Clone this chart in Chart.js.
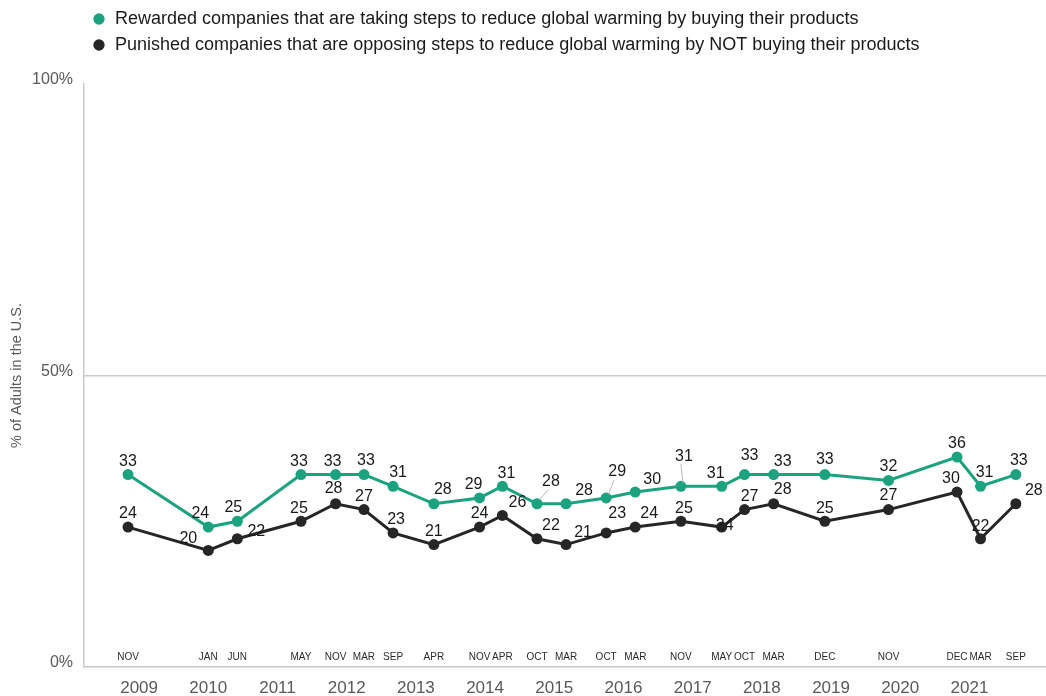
<!DOCTYPE html>
<html>
<head>
<meta charset="utf-8">
<script src="https://cdn.jsdelivr.net/npm/chart.js@4.4.1/dist/chart.umd.min.js"></script>
<style>
  html, body { margin: 0; padding: 0; background: #fff; }
  #wrap { width: 1046px; height: 696px; }
</style>
</head>
<body>
<div id="wrap"><canvas id="chart" width="1046" height="696"></canvas></div>
<script>
const surveyDates = [2008.84, 2010.00, 2010.42, 2011.34, 2011.84, 2012.25, 2012.67, 2013.26, 2013.92,
  2014.25, 2014.75, 2015.17, 2015.75, 2016.17, 2016.83, 2017.42, 2017.75, 2018.17, 2018.91,
  2019.83, 2020.82, 2021.16, 2021.67];
const monthLabels = ['NOV', 'JAN', 'JUN', 'MAY', 'NOV', 'MAR', 'SEP', 'APR', 'NOV', 'APR', 'OCT', 'MAR',
  'OCT', 'MAR', 'NOV', 'MAY', 'OCT', 'MAR', 'DEC', 'NOV', 'DEC', 'MAR', 'SEP'];
const rewarded = [33, 24, 25, 33, 33, 33, 31, 28, 29, 31, 28, 28, 29, 30, 31, 31, 33, 33, 33, 32, 36, 31, 33];
const punished = [24, 20, 22, 25, 28, 27, 23, 21, 24, 26, 22, 21, 23, 24, 25, 24, 27, 28, 25, 27, 30, 22, 28];
const yearTicks = [2009, 2010, 2011, 2012, 2013, 2014, 2015, 2016, 2017, 2018, 2019, 2020, 2021];
const pctTicks = [0, 50, 100];

const seriesNames = [
  'Rewarded companies that are taking steps to reduce global warming by buying their products',
  'Punished companies that are opposing steps to reduce global warming by NOT buying their products'
];

// where each value label sits relative to its point [dx, dy]
const greenLabelPos = [[0,-13],[-8,-13],[-4,-14],[-2,-13],[-3,-13],[2,-14],[5,-14],[9,-14],[-6,-13],[4,-13],
  [14,-22],[18,-13],[11,-26],[17,-13],[3,-30],[-6,-13],[5,-19],[9,-13],[0,-15],[0,-14],[0,-14],[4,-14],[3,-14]];
const blackLabelPos = [[0,-13],[-20,-12],[19,-7],[-2,-13],[-2,-15],[0,-13],[3,-13],[0,-13],[0,-13],[15,-13],
  [14,-13],[17,-12],[11,-19],[14,-13],[3,-13],[3,-1],[5,-13],[9,-14],[0,-13],[0,-14],[-6,-14],[0,-12],[18,-13]];
const leaderLines = [10, 12, 14];

const GREEN = '#1ba37f';
const DARK = '#262626';
const AXIS = '#c9c9c9';
const FONT = "'Liberation Sans', Arial, sans-serif";

const toPoints = vals => surveyDates.map((d, i) => ({ x: d, y: vals[i] }));

const valueLabels = {
  id: 'valueLabels',
  afterDatasetsDraw(chart) {
    const ctx = chart.ctx;
    const offsets = [greenLabelPos, blackLabelPos];
    ctx.save();
    ctx.font = '16px ' + FONT;
    ctx.textAlign = 'center';
    ctx.textBaseline = 'middle';
    chart.data.datasets.forEach((ds, di) => {
      const meta = chart.getDatasetMeta(di);
      meta.data.forEach((pt, i) => {
        const [dx, dy] = offsets[di][i];
        const tx = pt.x + dx, ty = pt.y + dy;
        if (di === 0 && leaderLines.includes(i)) {
          ctx.strokeStyle = '#a6a6a6';
          ctx.lineWidth = 0.8;
          ctx.beginPath();
          ctx.moveTo(pt.x + 2, pt.y - 3);
          ctx.lineTo(tx - 3, ty + 8);
          ctx.stroke();
        }
        ctx.fillStyle = '#1a1a1a';
        ctx.fillText(String(ds.data[i].y), tx, ty);
      });
    });
    // month labels along the bottom of the plot
    const xs = chart.scales.x, ys = chart.scales.y;
    ctx.font = '10px ' + FONT;
    ctx.fillStyle = '#2b2b2b';
    surveyDates.forEach((d, i) => {
      ctx.fillText(monthLabels[i], xs.getPixelForValue(d), ys.getPixelForValue(0) - 10);
    });
    ctx.restore();
  }
};

const legendHeight = {
  id: 'legendHeight',
  beforeInit(chart) {
    const fit = chart.legend.fit;
    chart.legend.fit = function () {
      fit.call(this);
      this.height = 82;
    };
  }
};

new Chart(document.getElementById('chart'), {
  type: 'line',
  data: {
    datasets: [
      { label: seriesNames[0], data: toPoints(rewarded), borderColor: GREEN, backgroundColor: GREEN,
        borderWidth: 3, pointRadius: 5.5, pointBorderWidth: 0, pointBackgroundColor: GREEN, tension: 0 },
      { label: seriesNames[1], data: toPoints(punished), borderColor: DARK, backgroundColor: DARK,
        borderWidth: 3, pointRadius: 5.5, pointBorderWidth: 0, pointBackgroundColor: DARK, tension: 0 }
    ]
  },
  options: {
    responsive: false,
    animation: false,
    devicePixelRatio: 1,
    layout: { autoPadding: false, padding: { top: 2, left: 0, right: 0, bottom: 0 } },
    plugins: {
      legend: {
        position: 'top',
        align: 'start',
        fullSize: false,
        labels: {
          usePointStyle: true,
          pointStyle: 'circle',
          boxWidth: 14,
          boxHeight: 8,
          padding: 8,
          color: '#1a1a1a',
          font: { family: FONT, size: 18 }
        }
      },
      tooltip: { enabled: false }
    },
    scales: {
      x: {
        type: 'linear',
        min: 2008.204,
        max: 2022.106,
        afterBuildTicks: s => { s.ticks = yearTicks.map(v => ({ value: v })); },
        afterFit: s => { s.height = 29; },
        grid: { display: false, drawTicks: false },
        border: { display: true, color: AXIS, width: 1.5 },
        ticks: {
          autoSkip: false,
          maxRotation: 0,
          padding: 11,
          color: '#595959',
          font: { family: FONT, size: 17 },
          callback: v => String(v)
        }
      },
      y: {
        min: 0,
        max: 100,
        afterBuildTicks: s => { s.ticks = pctTicks.map(v => ({ value: v })); },
        afterFit: s => { s.width = 84; },
        grid: {
          drawTicks: false,
          lineWidth: 1.5,
          color: c => (c.tick && c.tick.value === 50 ? AXIS : 'rgba(0,0,0,0)')
        },
        border: { display: true, color: AXIS, width: 1.5 },
        ticks: {
          padding: 11,
          labelOffset: -4,
          color: '#595959',
          font: { family: FONT, size: 16 },
          callback: v => v + '%'
        },
        title: {
          display: true,
          text: '% of Adults in the U.S.',
          color: '#595959',
          font: { family: FONT, size: 14.5 },
          padding: { top: 8, bottom: 0 }
        }
      }
    }
  },
  plugins: [legendHeight, valueLabels]
});
</script>
</body>
</html>
